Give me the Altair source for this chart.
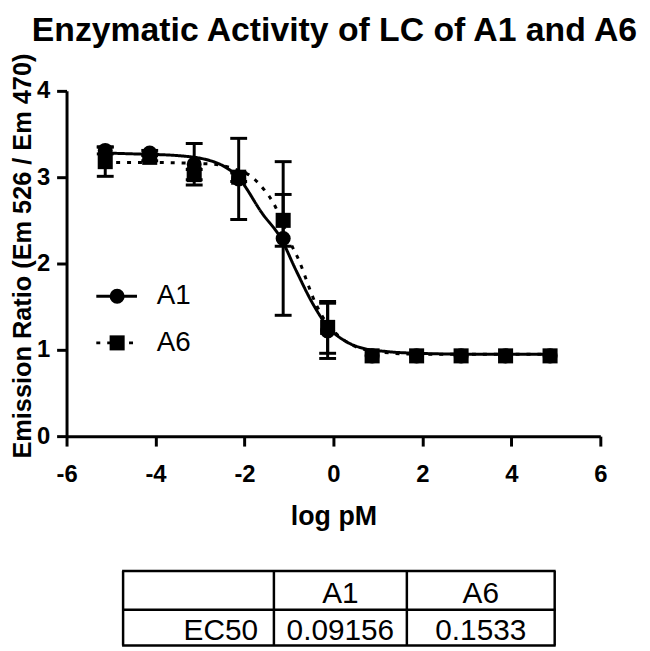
import altair as alt
import pandas as pd

TITLE = "Enzymatic Activity of LC of A1 and A6"
X_TITLE = "log pM"
Y_TITLE = "Emission Ratio (Em 526 / Em 470)"
SERIES = ["A1", "A6"]
X_TICKS = [-6, -4, -2, 0, 2, 4, 6]
Y_TICKS = [0, 1, 2, 3, 4]

# measured points
X_POINTS = [-5.13, -4.13, -3.13, -2.13, -1.13, -0.13, 0.87, 1.87, 2.87, 3.87, 4.87]
A1_MEAN = [3.31, 3.28, 3.15, 2.98, 2.29, 1.22, 0.93, 0.93, 0.93, 0.93, 0.93]
A1_ERR = [0.04, 0.03, 0.24, 0.47, 0.89, 0.32, 0.0, 0.0, 0.0, 0.0, 0.0]
A6_MEAN = [3.18, 3.23, 3.03, 3.00, 2.50, 1.26, 0.93, 0.93, 0.93, 0.93, 0.93]
A6_ERR = [0.17, 0.04, 0.06, 0.05, 0.30, 0.30, 0.0, 0.0, 0.0, 0.0, 0.0]

# fitted curves
A1_FIT_X = [-5.13, -4.5, -3.5, -2.7, -2.13, -1.6, -1.18, -0.84, -0.47, -0.13, 0.27, 0.65, 1.2, 1.87, 3.0, 4.87]
A1_FIT_Y = [3.28, 3.27, 3.25, 3.18, 2.99, 2.58, 2.29, 1.92, 1.54, 1.27, 1.10, 1.02, 0.98, 0.96, 0.95, 0.95]
A6_FIT_X = [-5.13, -4.13, -3.13, -2.7, -2.2, -1.88, -1.55, -1.36, -0.92, -0.77, -0.58, -0.47, -0.25, 0.0, 0.3, 0.85, 1.87, 4.87]
A6_FIT_Y = [3.17, 3.17, 3.16, 3.15, 3.09, 3.02, 2.85, 2.71, 2.19, 2.03, 1.77, 1.62, 1.39, 1.22, 1.09, 0.99, 0.95, 0.95]

# EC50 table
TABLE_HEADER = ["", "A1", "A6"]
TABLE_ROW = ["EC50", "0.09156", "0.1533"]

FONT = "Liberation Sans"
W, H = 538, 348

pts = pd.DataFrame({
    "x": X_POINTS * 2,
    "y": A1_MEAN + A6_MEAN,
    "err": A1_ERR + A6_ERR,
    "series": [SERIES[0]] * len(X_POINTS) + [SERIES[1]] * len(X_POINTS),
})
pts["lo"] = pts["y"] - pts["err"]
pts["hi"] = pts["y"] + pts["err"]
errs = pts[pts["err"] > 0]

fit = pd.DataFrame({
    "x": A1_FIT_X + A6_FIT_X,
    "y": A1_FIT_Y + A6_FIT_Y,
    "series": [SERIES[0]] * len(A1_FIT_X) + [SERIES[1]] * len(A6_FIT_X),
})

xscale = alt.Scale(domain=[-6, 6], nice=False, zero=False)
yscale = alt.Scale(domain=[0, 4], nice=False)
dash_scale = alt.Scale(domain=SERIES, range=[[1, 0], [4, 7]])
shape_scale = alt.Scale(domain=SERIES, range=["circle", "square"])

xenc = alt.X("x:Q", scale=xscale, axis=alt.Axis(
    values=X_TICKS, title=X_TITLE, labelPadding=17, titleX=W / 2, titleY=89,
    labelExpr="'' + datum.value",
    titleBaseline="alphabetic", titleFontSize=27))
yenc = alt.Y("y:Q", scale=yscale, axis=alt.Axis(
    values=Y_TICKS, title=Y_TITLE, labelPadding=7, titleX=-36, titleY=166,
    labelExpr="'' + datum.value",
    titleAngle=-90, titleAlign="center", titleBaseline="alphabetic", titleFontSize=25.5))

curves = alt.Chart(fit).mark_line(interpolate="monotone", color="black", strokeWidth=3).encode(
    x=xenc, y=yenc,
    strokeDash=alt.StrokeDash("series:N", scale=dash_scale, legend=None),
    detail="series:N",
)
bars = alt.Chart(errs).mark_rule(color="black", strokeWidth=3).encode(
    x="x:Q", y="lo:Q", y2="hi:Q")
caps_lo = alt.Chart(errs).mark_tick(color="black", orient="horizontal", size=17, thickness=3, opacity=1).encode(
    x="x:Q", y="lo:Q")
caps_hi = alt.Chart(errs).mark_tick(color="black", orient="horizontal", size=17, thickness=3, opacity=1).encode(
    x="x:Q", y="hi:Q")
markers = alt.Chart(pts).mark_point(filled=True, color="black", opacity=1, size=230).encode(
    x="x:Q", y="y:Q",
    shape=alt.Shape("series:N", scale=shape_scale, legend=None),
)

layers = [curves, bars, caps_lo, caps_hi, markers]

one = pd.DataFrame({"k": [0]})

# title
layers.append(alt.Chart(pd.DataFrame({"t": [TITLE]})).mark_text(
    font=FONT, fontSize=34, fontWeight="bold", color="black", align="center", baseline="alphabetic"
).encode(x=alt.value(270), y=alt.value(-50), text="t:N"))

# legend
LEG_Y = [207, 254]
for s, ly, dash in zip(SERIES, LEG_Y, [[1, 0], [4, 7]]):
    d = pd.DataFrame({"series": [s]})
    layers.append(alt.Chart(d).mark_rule(color="black", strokeWidth=3, strokeDash=dash).encode(
        x=alt.value(30), x2=alt.value(71), y=alt.value(ly)))
    layers.append(alt.Chart(d).mark_point(filled=True, color="black", opacity=1, size=230,
                                          shape="circle" if s == SERIES[0] else "square").encode(
        x=alt.value(51), y=alt.value(ly)))
    layers.append(alt.Chart(d).mark_text(font=FONT, fontSize=28, color="black", align="left",
                                         baseline="middle").encode(
        x=alt.value(91), y=alt.value(ly), text="series:N"))

# table
COL_X = [57, 209, 343, 492]
ROW_Y = [484, 523, 559]
for cx in COL_X:
    layers.append(alt.Chart(one).mark_rule(color="black", strokeWidth=2.5).encode(
        x=alt.value(cx), y=alt.value(ROW_Y[0]), y2=alt.value(ROW_Y[-1])))
for ry in ROW_Y:
    layers.append(alt.Chart(one).mark_rule(color="black", strokeWidth=2.5).encode(
        x=alt.value(COL_X[0] - 1), x2=alt.value(COL_X[-1] + 1), y=alt.value(ry)))

TEXT_BASE = [516, 553]
for ri, row in enumerate([TABLE_HEADER, TABLE_ROW]):
    for ci, txt in enumerate(row):
        if not txt:
            continue
        if ci == 0:
            tx, al = COL_X[1] - 16, "right"
        else:
            tx, al = (COL_X[ci] + COL_X[ci + 1]) / 2, "center"
        layers.append(alt.Chart(pd.DataFrame({"t": [txt]})).mark_text(
            font=FONT, fontSize=30, color="black", align=al, baseline="alphabetic"
        ).encode(x=alt.value(tx), y=alt.value(TEXT_BASE[ri]), text="t:N"))

chart = alt.layer(*layers).properties(
    width=W, height=H,
    autosize=alt.AutoSizeParams(type="none"),
    padding={"left": 59, "top": 81, "right": 42, "bottom": 211},
).configure_view(stroke=None).configure_axis(
    grid=False, domainColor="black", domainWidth=3, tickColor="black", tickWidth=3, tickSize=10,
    labelFont=FONT, labelFontSize=24, labelFontWeight="bold", labelColor="black",
    titleFont=FONT, titleFontWeight="bold", titleColor="black", labelFlush=False,
)

chart.save("out.html", embed_options={"renderer": "svg", "actions": False})
